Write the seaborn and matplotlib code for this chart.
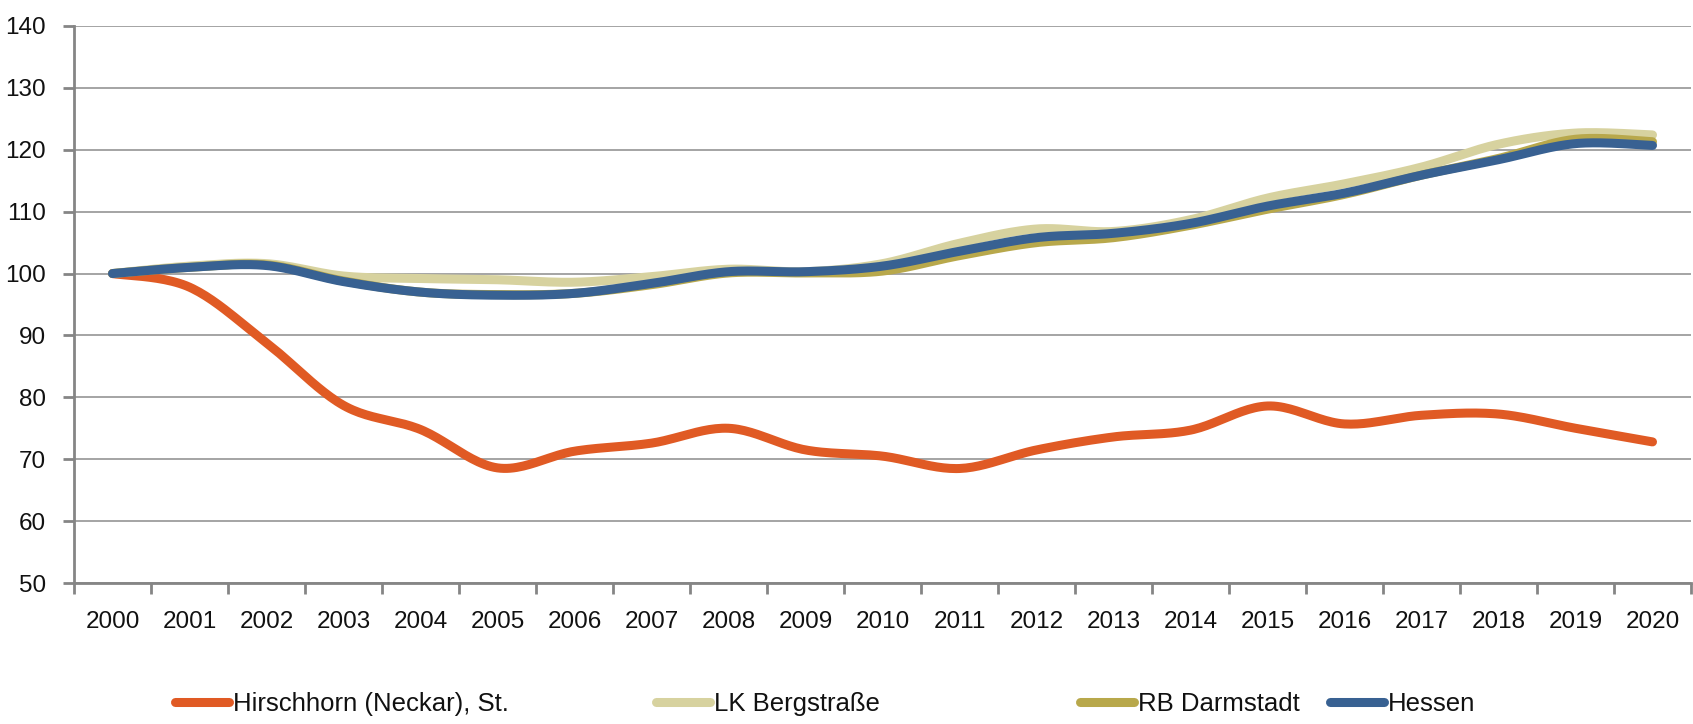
import numpy as np
import pandas as pd
import matplotlib
matplotlib.use("Agg")
import matplotlib.pyplot as plt
from matplotlib.lines import Line2D
import seaborn as sns

# Population index (2000 = 100)
years = [str(y) for y in range(2000, 2021)]
hirschhorn = [100.0, 97.8, 88.8, 78.7, 74.8, 68.6, 71.3, 72.6, 75.0, 71.5, 70.5,
              68.5, 71.5, 73.6, 74.7, 78.6, 75.7, 77.1, 77.3, 75.0, 72.8]
lk_bergstrasse = [100.0, 101.2, 101.6, 99.6, 99.2, 99.0, 98.6, 99.5, 100.7, 100.3, 101.6,
                  104.9, 107.2, 106.8, 108.7, 112.2, 114.5, 117.2, 120.9, 122.7, 122.4]
rb_darmstadt = [100.0, 101.0, 101.4, 98.8, 97.0, 96.6, 96.8, 98.2, 100.1, 100.1, 100.4,
                102.9, 105.0, 105.8, 107.8, 110.4, 112.8, 115.9, 118.6, 121.7, 121.3]
hessen = [100.0, 101.0, 101.3, 98.7, 97.0, 96.5, 96.8, 98.4, 100.3, 100.3, 101.2,
          103.6, 105.8, 106.5, 108.1, 110.9, 113.0, 115.9, 118.4, 121.0, 120.7]

series_names = ["Hirschhorn (Neckar), St.", "LK Bergstraße", "RB Darmstadt", "Hessen"]
series_values = [hirschhorn, lk_bergstrasse, rb_darmstadt, hessen]
colors = ["#E05A24", "#D7D29F", "#B8A84B", "#386192"]
y_ticks = [50, 60, 70, 80, 90, 100, 110, 120, 130, 140]


def smooth_curve(values, steps=24):
    """Catmull-Rom style Bezier smoothing through every data point."""
    p = np.asarray(values, dtype=float)
    x = np.arange(len(p), dtype=float)
    xs, ys = [x[0]], [p[0]]
    n = len(p)
    for i in range(n - 1):
        i0, i3 = max(i - 1, 0), min(i + 2, n - 1)
        bx = [x[i], x[i] + (x[i + 1] - x[i0]) / 6, x[i + 1] - (x[i3] - x[i]) / 6, x[i + 1]]
        by = [p[i], p[i] + (p[i + 1] - p[i0]) / 6, p[i + 1] - (p[i3] - p[i]) / 6, p[i + 1]]
        t = np.linspace(0, 1, steps + 1)[1:]
        c = [(1 - t) ** 3, 3 * (1 - t) ** 2 * t, 3 * (1 - t) * t ** 2, t ** 3]
        xs.extend(sum(ci * bi for ci, bi in zip(c, bx)))
        ys.extend(sum(ci * bi for ci, bi in zip(c, by)))
    return np.array(xs), np.array(ys)


frames = []
for name, vals in zip(series_names, series_values):
    sx, sy = smooth_curve(vals)
    frames.append(pd.DataFrame({"pos": sx, "value": sy, "series": name}))
df = pd.concat(frames, ignore_index=True)

sns.set_theme(style="white")
plt.rcParams["font.family"] = ["Liberation Sans", "DejaVu Sans"]

FS = 17.5
fig = plt.figure(figsize=(16.93, 7.24), dpi=100)
ax = fig.add_axes([74 / 1693, 1 - 583 / 724, 1617 / 1693, (583 - 26) / 724])

sns.lineplot(data=df, x="pos", y="value", hue="series", hue_order=series_names,
             palette=colors, linewidth=6.5, sort=False, estimator=None,
             legend=False, ax=ax)
for line in ax.get_lines():
    line.set_solid_capstyle("round")
    line.set_solid_joinstyle("round")

ax.set_xlim(-0.5, len(years) - 0.5)
ax.set_ylim(50, 140)
ax.set_yticks(y_ticks)
ax.set_yticklabels([str(v) for v in y_ticks])
ax.set_xlabel("")
ax.set_ylabel("")

# Category axis: tick marks between years, labels centred on years
ax.set_xticks(np.arange(-0.5, len(years), 1.0))
ax.set_xticklabels([])
ax.set_xticks(np.arange(len(years)), minor=True)
ax.set_xticklabels(years, minor=True)
ax.tick_params(axis="x", which="major", length=8, width=2, color="#858585", direction="out", bottom=True)
ax.tick_params(axis="x", which="minor", length=0, pad=20, labelsize=FS, labelcolor="#111111")
ax.tick_params(axis="y", length=8, width=2, color="#858585", direction="out", left=True,
               pad=12, labelsize=FS, labelcolor="#111111")

ax.yaxis.grid(True, color="#A4A4A4", linewidth=1.4)
ax.xaxis.grid(False)
ax.set_axisbelow(True)
for side in ("top", "right"):
    ax.spines[side].set_visible(False)
for side in ("left", "bottom"):
    ax.spines[side].set_color("#858585")
    ax.spines[side].set_linewidth(2)
    ax.spines[side].set_zorder(3)

# One legend entry per slot along the bottom
legend_x = [175 / 1693, 656 / 1693, 1080 / 1693, 1330 / 1693]
for name, col, lx in zip(series_names, colors, legend_x):
    h = Line2D([0], [0], color=col, linewidth=6.5, solid_capstyle="round")
    leg = fig.legend([h], [name], loc="center left", bbox_to_anchor=(lx, 1 - 704 / 724),
                     frameon=False, fontsize=FS + 1, handlelength=2.1, handletextpad=0.15,
                     borderpad=0, borderaxespad=0)
    for t in leg.get_texts():
        t.set_color("#111111")

fig.savefig("out.png", dpi=100, facecolor="white")
